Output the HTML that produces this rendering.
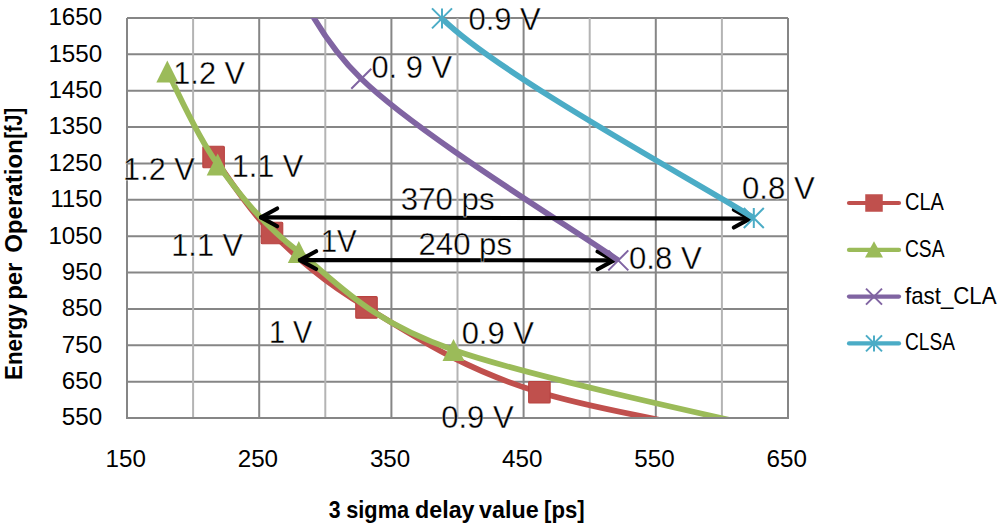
<!DOCTYPE html><html><head><meta charset="utf-8"><style>html,body{margin:0;padding:0;background:#fff;}svg{display:block;}text{font-family:"Liberation Sans",sans-serif;}.th{stroke:#fff;stroke-width:0.35px;}</style></head><body><svg width="1000" height="524" viewBox="0 0 1000 524"><rect width="1000" height="524" fill="#fff"/><defs><clipPath id="pa"><rect x="127" y="18" width="661" height="400"/></clipPath></defs><line x1="127.00" y1="18.00" x2="788.00" y2="18.00" stroke="#868686" stroke-width="2"/><line x1="127.00" y1="54.36" x2="788.00" y2="54.36" stroke="#868686" stroke-width="2"/><line x1="127.00" y1="90.73" x2="788.00" y2="90.73" stroke="#868686" stroke-width="2"/><line x1="127.00" y1="127.09" x2="788.00" y2="127.09" stroke="#868686" stroke-width="2"/><line x1="127.00" y1="163.45" x2="788.00" y2="163.45" stroke="#868686" stroke-width="2"/><line x1="127.00" y1="199.82" x2="788.00" y2="199.82" stroke="#868686" stroke-width="2"/><line x1="127.00" y1="236.18" x2="788.00" y2="236.18" stroke="#868686" stroke-width="2"/><line x1="127.00" y1="272.55" x2="788.00" y2="272.55" stroke="#868686" stroke-width="2"/><line x1="127.00" y1="308.91" x2="788.00" y2="308.91" stroke="#868686" stroke-width="2"/><line x1="127.00" y1="345.27" x2="788.00" y2="345.27" stroke="#868686" stroke-width="2"/><line x1="127.00" y1="381.64" x2="788.00" y2="381.64" stroke="#868686" stroke-width="2"/><line x1="127.00" y1="418.00" x2="788.00" y2="418.00" stroke="#868686" stroke-width="2"/><line x1="127.00" y1="18.00" x2="127.00" y2="418.00" stroke="#868686" stroke-width="2"/><line x1="193.10" y1="18.00" x2="193.10" y2="418.00" stroke="#B4B4B4" stroke-width="2"/><line x1="259.20" y1="18.00" x2="259.20" y2="418.00" stroke="#868686" stroke-width="2"/><line x1="325.30" y1="18.00" x2="325.30" y2="418.00" stroke="#B4B4B4" stroke-width="2"/><line x1="391.40" y1="18.00" x2="391.40" y2="418.00" stroke="#868686" stroke-width="2"/><line x1="457.50" y1="18.00" x2="457.50" y2="418.00" stroke="#B4B4B4" stroke-width="2"/><line x1="523.60" y1="18.00" x2="523.60" y2="418.00" stroke="#868686" stroke-width="2"/><line x1="589.70" y1="18.00" x2="589.70" y2="418.00" stroke="#B4B4B4" stroke-width="2"/><line x1="655.80" y1="18.00" x2="655.80" y2="418.00" stroke="#868686" stroke-width="2"/><line x1="721.90" y1="18.00" x2="721.90" y2="418.00" stroke="#B4B4B4" stroke-width="2"/><line x1="788.00" y1="18.00" x2="788.00" y2="418.00" stroke="#868686" stroke-width="2"/><text x="102.2" y="25.40" font-size="24.2" text-anchor="end">1650</text><text x="102.2" y="61.76" font-size="24.2" text-anchor="end">1550</text><text x="102.2" y="98.13" font-size="24.2" text-anchor="end">1450</text><text x="102.2" y="134.49" font-size="24.2" text-anchor="end">1350</text><text x="102.2" y="170.85" font-size="24.2" text-anchor="end">1250</text><text x="102.2" y="207.22" font-size="24.2" text-anchor="end">1150</text><text x="102.2" y="243.58" font-size="24.2" text-anchor="end">1050</text><text x="102.2" y="279.95" font-size="24.2" text-anchor="end">950</text><text x="102.2" y="316.31" font-size="24.2" text-anchor="end">850</text><text x="102.2" y="352.67" font-size="24.2" text-anchor="end">750</text><text x="102.2" y="389.04" font-size="24.2" text-anchor="end">650</text><text x="102.2" y="425.40" font-size="24.2" text-anchor="end">550</text><text x="125.70" y="466.7" font-size="24.2" text-anchor="middle">150</text><text x="257.90" y="466.7" font-size="24.2" text-anchor="middle">250</text><text x="390.10" y="466.7" font-size="24.2" text-anchor="middle">350</text><text x="522.30" y="466.7" font-size="24.2" text-anchor="middle">450</text><text x="654.50" y="466.7" font-size="24.2" text-anchor="middle">550</text><text x="786.70" y="466.7" font-size="24.2" text-anchor="middle">650</text><text x="328.77" y="517.7" font-size="23.8" font-weight="bold" textLength="11.80" lengthAdjust="spacingAndGlyphs">3</text><text x="346.24" y="517.7" font-size="23.8" font-weight="bold" textLength="62.86" lengthAdjust="spacingAndGlyphs">sigma</text><text x="415.07" y="517.7" font-size="23.8" font-weight="bold" textLength="59.50" lengthAdjust="spacingAndGlyphs">delay</text><text x="479.08" y="517.7" font-size="23.8" font-weight="bold" textLength="59.57" lengthAdjust="spacingAndGlyphs">value</text><text x="544.08" y="517.7" font-size="23.8" font-weight="bold" textLength="40.60" lengthAdjust="spacingAndGlyphs">[ps]</text><text transform="rotate(-90)" x="-380.06" y="22.4" font-size="23.8" font-weight="bold" textLength="75.97" lengthAdjust="spacingAndGlyphs">Energy</text><text transform="rotate(-90)" x="-299.86" y="22.4" font-size="23.8" font-weight="bold" textLength="37.24" lengthAdjust="spacingAndGlyphs">per</text><text transform="rotate(-90)" x="-252.86" y="22.4" font-size="23.8" font-weight="bold" textLength="113.67" lengthAdjust="spacingAndGlyphs">Operation</text><text transform="rotate(-90)" x="-138.48" y="22.4" font-size="23.8" font-weight="bold" textLength="30.57" lengthAdjust="spacingAndGlyphs">[fJ]</text><g clip-path="url(#pa)"><path d="M213.60,157.00 C223.33,169.67 246.52,207.93 272.00,233.00 C297.48,258.07 321.93,280.85 366.50,307.40 C411.07,333.95 459.52,368.05 539.40,392.30 C619.28,416.55 794.73,442.80 845.80,452.90" stroke="#C0504D" stroke-width="5.7" fill="none" stroke-linejoin="round"/></g><rect x="202.85" y="146.25" width="21.5" height="21.5" rx="1" fill="#C0504D" stroke="#B8423F" stroke-width="1.1"/><rect x="261.25" y="222.25" width="21.5" height="21.5" rx="1" fill="#C0504D" stroke="#B8423F" stroke-width="1.1"/><rect x="355.75" y="296.65" width="21.5" height="21.5" rx="1" fill="#C0504D" stroke="#B8423F" stroke-width="1.1"/><rect x="528.65" y="381.55" width="21.5" height="21.5" rx="1" fill="#C0504D" stroke="#B8423F" stroke-width="1.1"/><g clip-path="url(#pa)"><path d="M167.30,71.50 C175.70,86.98 195.78,134.32 217.70,164.40 C239.62,194.48 259.50,221.07 298.80,252.00 C338.10,282.93 367.01,319.94 453.50,350.00 C549.97,383.53 806.92,436.00 877.60,453.20" stroke="#9BBB59" stroke-width="5.7" fill="none" stroke-linejoin="round"/></g><path d="M167.30,60.50 L178.30,82.50 L156.30,82.50 Z" fill="#9BBB59"/><path d="M217.70,153.40 L228.70,175.40 L206.70,175.40 Z" fill="#9BBB59"/><path d="M298.80,241.00 L309.80,263.00 L287.80,263.00 Z" fill="#9BBB59"/><path d="M453.50,339.00 L464.50,361.00 L442.50,361.00 Z" fill="#9BBB59"/><g stroke="#000" stroke-width="4.1" fill="none" stroke-linecap="round" stroke-linejoin="round"><line x1="299.90" y1="260.10" x2="613.80" y2="260.40"/><path d="M316.10,251.20 L299.90,260.10 L316.10,269.00"/><path d="M597.60,251.50 L613.80,260.40 L597.60,269.30"/></g><g clip-path="url(#pa)"><path d="M264.70,-82.50 C280.80,-55.62 302.37,21.65 361.30,78.80 C420.23,135.95 575.47,230.13 618.30,260.40" stroke="#8064A2" stroke-width="5.7" fill="none" stroke-linejoin="round"/></g><path d="M351.30,68.80 L371.30,88.80 M351.30,88.80 L371.30,68.80" stroke="#8064A2" stroke-width="2" fill="none"/><path d="M608.30,250.40 L628.30,270.40 M608.30,270.40 L628.30,250.40" stroke="#8064A2" stroke-width="2" fill="none"/><g stroke="#000" stroke-width="4.1" fill="none" stroke-linecap="round" stroke-linejoin="round"><line x1="261.00" y1="217.40" x2="750.00" y2="218.60"/><path d="M277.20,208.50 L261.00,217.40 L277.20,226.30"/><path d="M733.80,209.70 L750.00,218.60 L733.80,227.50"/></g><g clip-path="url(#pa)"><path d="M406.60,-126.00 C412.50,-101.93 389.19,-33.92 442.00,18.40 C499.87,75.73 701.83,184.73 753.80,218.00" stroke="#4BACC6" stroke-width="5.7" fill="none" stroke-linejoin="round"/></g><path d="M432.00,8.40 L452.00,28.40 M432.00,28.40 L452.00,8.40 M442.00,8.40 L442.00,28.40" stroke="#4BACC6" stroke-width="2" fill="none"/><path d="M743.80,208.00 L763.80,228.00 M743.80,228.00 L763.80,208.00 M753.80,208.00 L753.80,228.00" stroke="#4BACC6" stroke-width="2" fill="none"/><line x1="126.00" y1="418.00" x2="789.00" y2="418.00" stroke="#868686" stroke-width="2"/><text class="th" x="173.30" y="83.80" font-size="32" textLength="71.65" lengthAdjust="spacingAndGlyphs">1.2 V</text><text class="th" x="123.11" y="179.80" font-size="32" textLength="71.45" lengthAdjust="spacingAndGlyphs">1.2 V</text><text class="th" x="231.70" y="176.80" font-size="32" textLength="71.65" lengthAdjust="spacingAndGlyphs">1.1 V</text><text class="th" x="171.30" y="255.80" font-size="32" textLength="71.65" lengthAdjust="spacingAndGlyphs">1.1 V</text><text class="th" x="320.69" y="251.95" font-size="32" textLength="36.00" lengthAdjust="spacingAndGlyphs">1V</text><text class="th" x="268.94" y="342.55" font-size="32" textLength="43.23" lengthAdjust="spacingAndGlyphs">1 V</text><text class="th" x="461.66" y="343.60" font-size="32" textLength="72.29" lengthAdjust="spacingAndGlyphs">0.9 V</text><text class="th" x="441.26" y="427.60" font-size="32" textLength="72.40" lengthAdjust="spacingAndGlyphs">0.9 V</text><text class="th" x="371.47" y="78.10" font-size="32" textLength="80.52" lengthAdjust="spacingAndGlyphs">0. 9 V</text><text class="th" x="629.05" y="269.20" font-size="32" textLength="72.70" lengthAdjust="spacingAndGlyphs">0.8 V</text><text class="th" x="468.46" y="30.20" font-size="32" textLength="72.29" lengthAdjust="spacingAndGlyphs">0.9 V</text><text class="th" x="742.05" y="199.00" font-size="32" textLength="72.70" lengthAdjust="spacingAndGlyphs">0.8 V</text><text class="th" x="400.85" y="210.05" font-size="32" textLength="93.72" lengthAdjust="spacingAndGlyphs">370 ps</text><text class="th" x="418.54" y="254.80" font-size="32" textLength="93.42" lengthAdjust="spacingAndGlyphs">240 ps</text><line x1="849" y1="203.00" x2="899" y2="203.00" stroke="#C0504D" stroke-width="4.2" stroke-linecap="round"/><rect x="865.25" y="194.25" width="17.5" height="17.5" fill="#C0504D"/><text x="905" y="210.00" font-size="23.4" textLength="38.9" lengthAdjust="spacingAndGlyphs">CLA</text><line x1="849" y1="249.90" x2="899" y2="249.90" stroke="#9BBB59" stroke-width="4.2" stroke-linecap="round"/><path d="M874,241.20 L883,257.50 L865,257.50 Z" fill="#9BBB59"/><text x="905" y="256.90" font-size="23.4" textLength="39.5" lengthAdjust="spacingAndGlyphs">CSA</text><line x1="849" y1="296.60" x2="899" y2="296.60" stroke="#8064A2" stroke-width="4.2" stroke-linecap="round"/><path d="M866.00,288.60 L882.00,304.60 M866.00,304.60 L882.00,288.60" stroke="#8064A2" stroke-width="2" fill="none"/><text x="905" y="303.60" font-size="23.4" textLength="91.6" lengthAdjust="spacingAndGlyphs">fast_CLA</text><line x1="849" y1="343.40" x2="899" y2="343.40" stroke="#4BACC6" stroke-width="4.2" stroke-linecap="round"/><path d="M866.00,335.40 L882.00,351.40 M866.00,351.40 L882.00,335.40 M874.00,335.40 L874.00,351.40" stroke="#4BACC6" stroke-width="2" fill="none"/><text x="905" y="350.40" font-size="23.4" textLength="49.9" lengthAdjust="spacingAndGlyphs">CLSA</text></svg></body></html>
